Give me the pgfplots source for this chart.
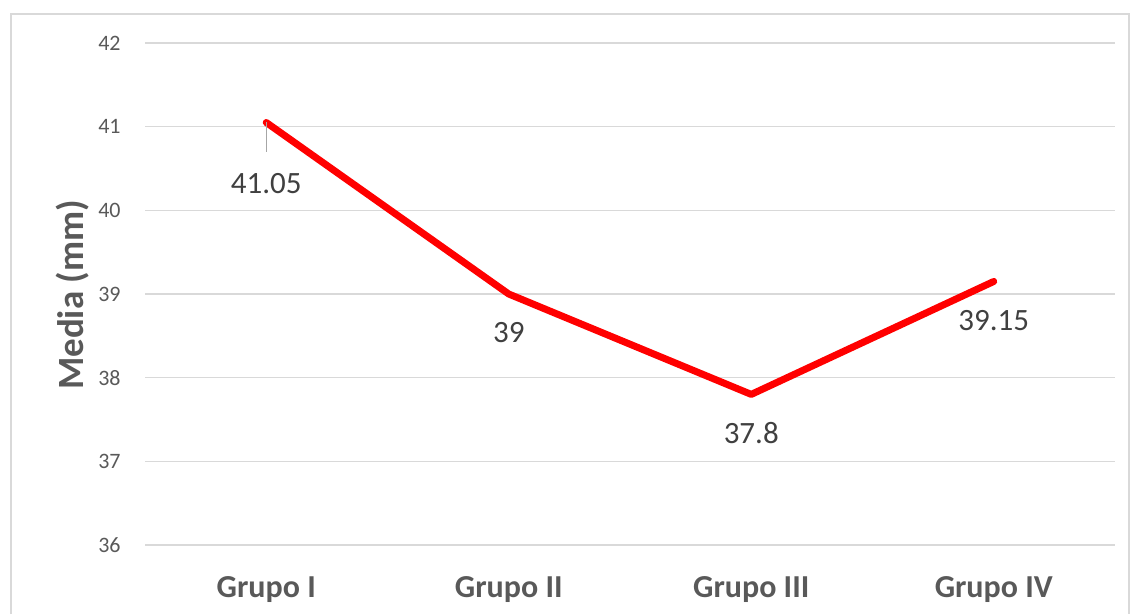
\documentclass[border=0pt]{standalone}
\usepackage{pgfplots}
\pgfplotsset{compat=1.18}
\usepackage{fontspec}
\setmainfont{Carlito}
\definecolor{tickgray}{HTML}{595959}
\definecolor{labgray}{HTML}{404040}
\definecolor{gridgray}{HTML}{D9D9D9}
\definecolor{framegray}{HTML}{D9D9D9}
\begin{document}
\begin{tikzpicture}
\path (0,0) rectangle (566pt,307pt);
\draw[framegray, line width=0.75pt] (5.5pt,0) -- (5.5pt,300pt) -- (564.5pt,300pt) -- (564.5pt,0);
\begin{axis}[
  at={(72.5pt,34.5pt)}, anchor=south west,
  scale only axis, width=485pt, height=251pt,
  xmin=-0.5, xmax=3.5, ymin=36, ymax=42,
  xtick={0,1,2,3},
  xticklabels={Grupo I, Grupo II, Grupo III, Grupo IV},
  ytick={36,37,38,39,40,41,42},
  axis line style={draw=none},
  major tick length=0pt,
  ymajorgrids, grid style={gridgray, line width=0.75pt},
  /pgf/number format/assume math mode=true,
  yticklabel style={font=\fontsize{11pt}{13pt}\selectfont, text=tickgray, anchor=east, inner sep=0pt, xshift=-12pt},
  xticklabel style={font=\fontsize{16pt}{19pt}\selectfont\bfseries, text=tickgray, anchor=base, inner sep=0pt, yshift=-26pt},
  clip=false,
]
\addplot[red, line width=3.5pt, line cap=round, line join=round] coordinates {(0,41.05) (1,39) (2,37.8) (3,39.15)};
\addplot[draw=none, mark=none, nodes near coords, point meta=explicit symbolic,
  every node near coord/.style={font=\fontsize{15.5pt}{18pt}\selectfont, text=labgray, anchor=center, yshift=-19.5pt}]
  coordinates {(1,39) [39] (2,37.8) [37.8] (3,39.15) [39.15]};
\addplot[draw=none, mark=none, nodes near coords, point meta=explicit symbolic,
  every node near coord/.style={font=\fontsize{15.5pt}{18pt}\selectfont, text=labgray, anchor=center, yshift=-30.5pt}]
  coordinates {(0,41.05) [41.05]};
\draw[gray!70, line width=0.6pt] (axis cs:0,41.05) -- ([yshift=-15pt]axis cs:0,41.05);
\end{axis}
\node[rotate=90, font=\fontsize{18.5pt}{22pt}\selectfont\bfseries, text=tickgray] at (36.5pt,159.5pt) {Media (mm)};
\end{tikzpicture}
\end{document}
